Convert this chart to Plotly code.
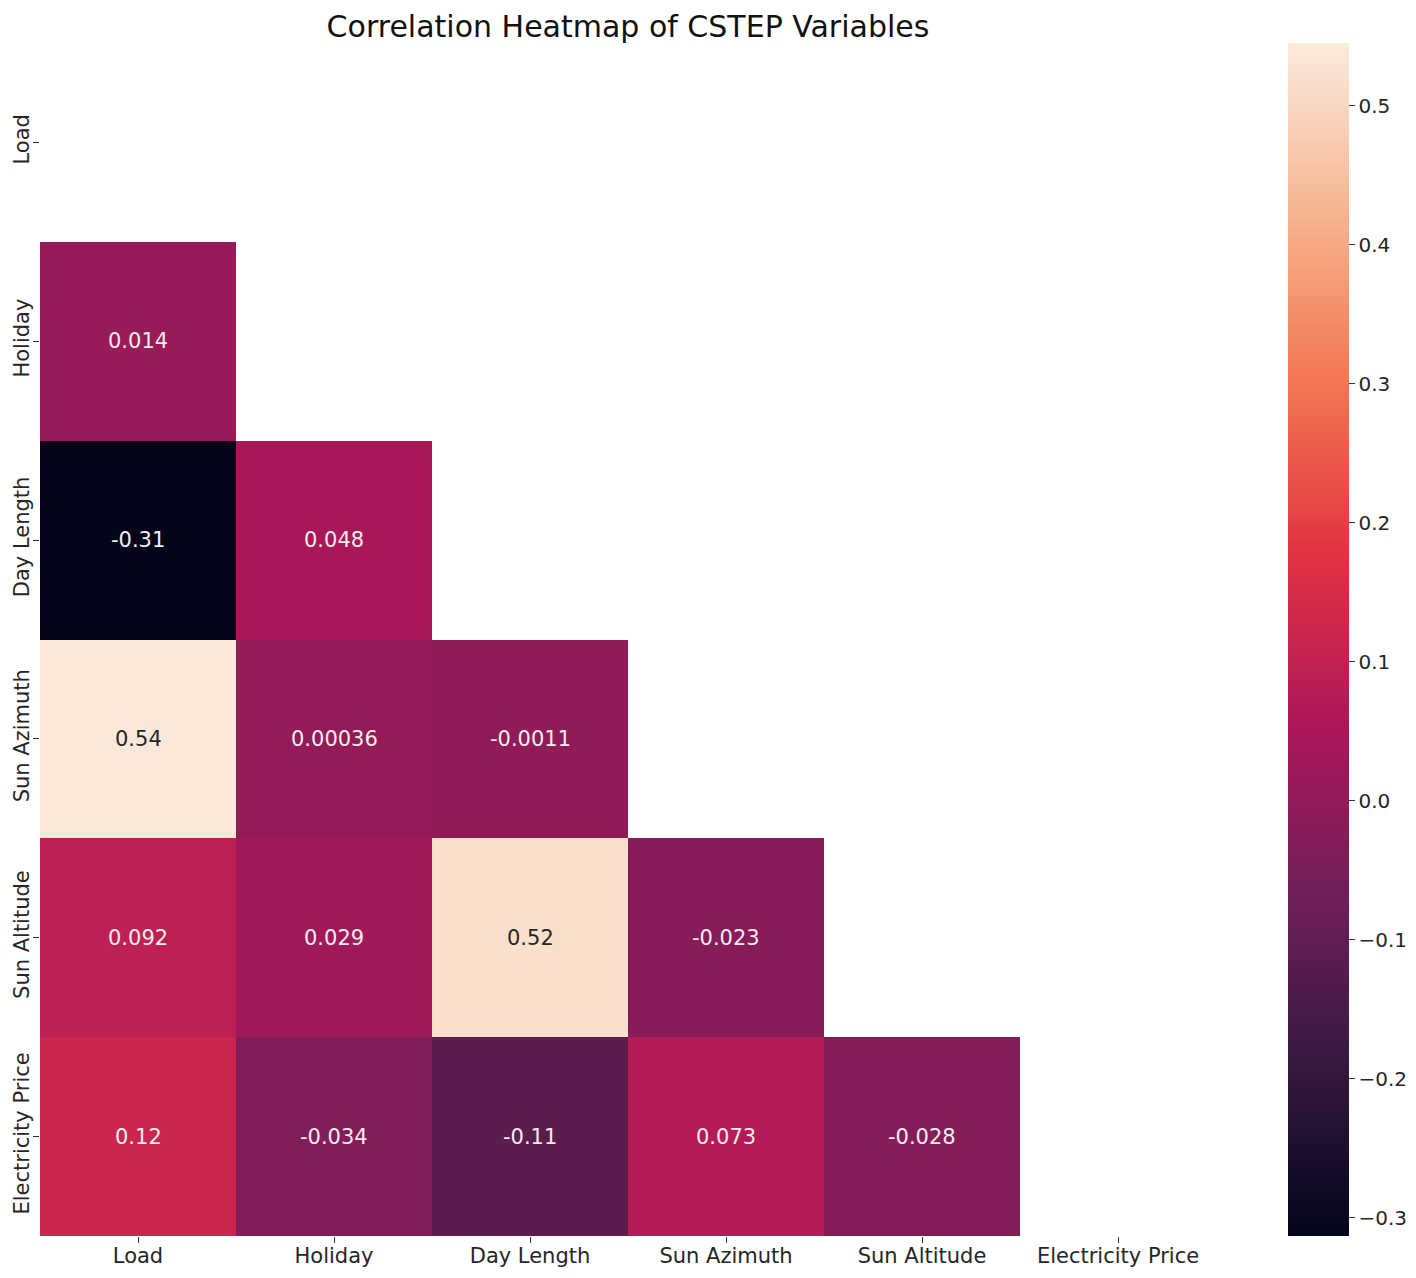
import plotly.graph_objects as go

# variables in the correlation matrix
variables = ["Load", "Holiday", "Day Length", "Sun Azimuth", "Sun Altitude", "Electricity Price"]

# lower-triangle correlations (row variable vs. earlier columns)
holiday_corr = [0.014]
day_length_corr = [-0.31, 0.048]
sun_azimuth_corr = [0.54, 0.00036, -0.0011]
sun_altitude_corr = [0.092, 0.029, 0.52, -0.023]
electricity_price_corr = [0.12, -0.034, -0.11, 0.073, -0.028]

lower_rows = [[], holiday_corr, day_length_corr, sun_azimuth_corr,
              sun_altitude_corr, electricity_price_corr]

colorbar_ticks = [-0.3, -0.2, -0.1, 0.0, 0.1, 0.2, 0.3, 0.4, 0.5]

# approximation of seaborn's "rocket" colormap
rocket = [
    [0.0, "#03051a"], [1 / 7, "#35193e"], [2 / 7, "#701f57"], [3 / 7, "#ad1759"],
    [4 / 7, "#e13342"], [5 / 7, "#f37651"], [6 / 7, "#f6b48f"], [1.0, "#faebdd"],
]

n = len(variables)
# build the masked matrix (upper triangle + diagonal hidden)
z = []
for i in range(n):
    row = list(lower_rows[i]) + [None] * (n - len(lower_rows[i]))
    z.append(row)

FONT = "DejaVu Sans"
# the page body has an 8px margin, so the figure is sized/offset to fit inside it
W, H = 1408, 1262

fig = go.Figure()
fig.add_trace(go.Heatmap(
    z=z,
    x=variables,
    y=variables,
    colorscale=rocket,
    zmin=-0.313,
    zmax=0.545,
    hoverongaps=False,
    colorbar=dict(
        thickness=61,
        len=1.0,
        lenmode="fraction",
        y=0.5,
        yanchor="middle",
        x=(1288 - 40) / 1176,
        xanchor="left",
        xpad=0,
        ypad=0,
        outlinewidth=0,
        tickvals=colorbar_ticks,
        ticktext=[f"{t:.1f}".replace("-", "\u2212") for t in colorbar_ticks],
        ticks="outside",
        ticklen=6,
        tickwidth=1.3,
        tickcolor="#333333",
        tickfont=dict(family=FONT, size=20, color="#262626"),
    ),
))

# cell annotations
for i in range(n):
    for j, v in enumerate(lower_rows[i]):
        fig.add_annotation(
            x=variables[j], y=variables[i],
            text=f"{v:.2g}",
            showarrow=False,
            font=dict(family=FONT, size=21,
                      color="#262626" if v > 0.3 else "#f5ecec"),
        )

fig.update_layout(
    width=W,
    height=H,
    margin=dict(l=32, r=200, t=35, b=34, autoexpand=False),
    paper_bgcolor="white",
    plot_bgcolor="white",
    title=dict(
        text="Correlation Heatmap of CSTEP Variables",
        x=(628 - 8) / W,
        xanchor="center",
        xref="container",
        y=1 - 18 / H,
        yanchor="middle",
        yref="container",
        font=dict(family=FONT, size=30, color="#111111"),
    ),
    xaxis=dict(
        range=[-0.5, n - 0.5],
        automargin=False,
        showgrid=False, zeroline=False, showline=False,
        ticks="outside", ticklen=6, tickwidth=1.3, tickcolor="#333333",
        ticklabelstandoff=-5,
        tickfont=dict(family=FONT, size=21, color="#262626"),
    ),
    yaxis=dict(
        range=[n - 0.5, -0.5],
        automargin=False,
        showgrid=False, zeroline=False, showline=False,
        ticks="outside", ticklen=6, tickwidth=1.3, tickcolor="#333333",
        tickangle=-90,
        ticklabelstandoff=-4,
        tickfont=dict(family=FONT, size=21, color="#262626"),
    ),
)

fig.write_html("out.html")
